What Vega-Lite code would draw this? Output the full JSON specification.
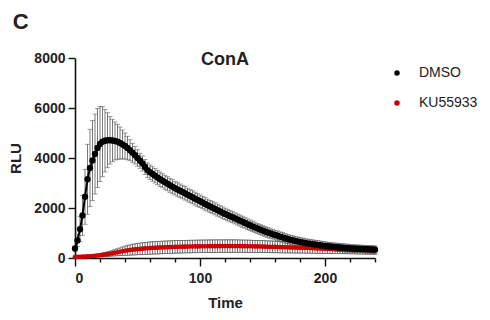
{
"$schema": "https://vega.github.io/schema/vega-lite/v6.json",
"background": "white",
"padding": {"left": 8, "top": 11, "right": 5, "bottom": 5},
"title": {"text": "C", "anchor": "start", "frame": "bounds", "fontSize": 22, "font": "Liberation Sans", "fontWeight": "bold", "color": "#222", "offset": 17, "dx": 4},
"datasets": {
"dmso": [
{"t":0,"v":380,"e":100},{"t":2,"v":700,"e":250},{"t":4,"v":1150,"e":500},{"t":6,"v":1700,"e":800},{"t":8,"v":2450,"e":1100},{"t":10,"v":3150,"e":1400},{"t":12,"v":3600,"e":1550},{"t":14,"v":3900,"e":1600},{"t":16,"v":4160,"e":1600},{"t":18,"v":4400,"e":1580},{"t":20,"v":4560,"e":1500},{"t":22,"v":4650,"e":1400},{"t":24,"v":4690,"e":1250},{"t":26,"v":4710,"e":1100},{"t":28,"v":4710,"e":950},{"t":30,"v":4700,"e":850},{"t":32,"v":4680,"e":760},{"t":34,"v":4650,"e":700},{"t":36,"v":4600,"e":640},{"t":38,"v":4540,"e":580},{"t":40,"v":4480,"e":520},{"t":42,"v":4400,"e":470},{"t":44,"v":4310,"e":420},{"t":46,"v":4210,"e":380},{"t":48,"v":4110,"e":350},{"t":50,"v":4000,"e":330},{"t":52,"v":3890,"e":300},{"t":54,"v":3780,"e":300},{"t":56,"v":3640,"e":300},{"t":58,"v":3510,"e":290},{"t":60,"v":3430,"e":290},{"t":62,"v":3360,"e":290},{"t":64,"v":3290,"e":290},{"t":66,"v":3220,"e":290},{"t":68,"v":3150,"e":290},{"t":70,"v":3090,"e":280},{"t":72,"v":3030,"e":280},{"t":74,"v":2970,"e":280},{"t":76,"v":2910,"e":280},{"t":78,"v":2850,"e":280},{"t":80,"v":2790,"e":270},{"t":82,"v":2740,"e":270},{"t":84,"v":2690,"e":270},{"t":86,"v":2640,"e":270},{"t":88,"v":2590,"e":270},{"t":90,"v":2535,"e":260},{"t":92,"v":2480,"e":260},{"t":94,"v":2430,"e":260},{"t":96,"v":2375,"e":260},{"t":98,"v":2325,"e":260},{"t":100,"v":2270,"e":250},{"t":102,"v":2220,"e":250},{"t":104,"v":2165,"e":250},{"t":106,"v":2115,"e":240},{"t":108,"v":2065,"e":240},{"t":110,"v":2015,"e":240},{"t":112,"v":1965,"e":240},{"t":114,"v":1915,"e":240},{"t":116,"v":1865,"e":230},{"t":118,"v":1815,"e":230},{"t":120,"v":1765,"e":230},{"t":122,"v":1720,"e":230},{"t":124,"v":1675,"e":230},{"t":126,"v":1630,"e":220},{"t":128,"v":1585,"e":220},{"t":130,"v":1540,"e":220},{"t":132,"v":1495,"e":220},{"t":134,"v":1450,"e":220},{"t":136,"v":1405,"e":210},{"t":138,"v":1350,"e":210},{"t":140,"v":1310,"e":210},{"t":142,"v":1265,"e":210},{"t":144,"v":1225,"e":210},{"t":146,"v":1180,"e":200},{"t":148,"v":1140,"e":200},{"t":150,"v":1100,"e":200},{"t":152,"v":1060,"e":200},{"t":154,"v":1025,"e":200},{"t":156,"v":990,"e":200},{"t":158,"v":955,"e":190},{"t":160,"v":920,"e":190},{"t":162,"v":890,"e":190},{"t":164,"v":855,"e":190},{"t":166,"v":825,"e":190},{"t":168,"v":790,"e":190},{"t":170,"v":760,"e":180},{"t":172,"v":735,"e":180},{"t":174,"v":710,"e":180},{"t":176,"v":685,"e":180},{"t":178,"v":660,"e":180},{"t":180,"v":640,"e":180},{"t":182,"v":620,"e":180},{"t":184,"v":600,"e":170},{"t":186,"v":585,"e":170},{"t":188,"v":570,"e":170},{"t":190,"v":555,"e":170},{"t":192,"v":540,"e":170},{"t":194,"v":525,"e":170},{"t":196,"v":510,"e":170},{"t":198,"v":495,"e":170},{"t":200,"v":480,"e":170},{"t":202,"v":470,"e":160},{"t":204,"v":460,"e":160},{"t":206,"v":450,"e":160},{"t":208,"v":440,"e":160},{"t":210,"v":430,"e":160},{"t":212,"v":420,"e":160},{"t":214,"v":410,"e":160},{"t":216,"v":400,"e":160},{"t":218,"v":395,"e":160},{"t":220,"v":385,"e":150},{"t":222,"v":380,"e":150},{"t":224,"v":375,"e":150},{"t":226,"v":370,"e":150},{"t":228,"v":365,"e":150},{"t":230,"v":360,"e":150},{"t":232,"v":355,"e":150},{"t":234,"v":350,"e":150},{"t":236,"v":345,"e":150},{"t":238,"v":340,"e":150},{"t":240,"v":335,"e":150}
],
"ku": [
{"t":0,"v":40,"e":30},{"t":2,"v":45,"e":30},{"t":4,"v":50,"e":30},{"t":6,"v":55,"e":35},{"t":8,"v":60,"e":35},{"t":10,"v":65,"e":40},{"t":12,"v":70,"e":40},{"t":14,"v":80,"e":45},{"t":16,"v":90,"e":50},{"t":18,"v":100,"e":55},{"t":20,"v":110,"e":60},{"t":22,"v":125,"e":70},{"t":24,"v":140,"e":80},{"t":26,"v":155,"e":90},{"t":28,"v":170,"e":100},{"t":30,"v":190,"e":110},{"t":32,"v":210,"e":125},{"t":34,"v":230,"e":140},{"t":36,"v":250,"e":155},{"t":38,"v":270,"e":170},{"t":40,"v":290,"e":185},{"t":42,"v":305,"e":195},{"t":44,"v":320,"e":205},{"t":46,"v":335,"e":215},{"t":48,"v":345,"e":220},{"t":50,"v":355,"e":225},{"t":52,"v":365,"e":230},{"t":54,"v":375,"e":235},{"t":56,"v":383,"e":240},{"t":58,"v":390,"e":240},{"t":60,"v":397,"e":245},{"t":62,"v":403,"e":245},{"t":64,"v":409,"e":250},{"t":66,"v":414,"e":250},{"t":68,"v":419,"e":250},{"t":70,"v":424,"e":250},{"t":72,"v":428,"e":250},{"t":74,"v":432,"e":250},{"t":76,"v":436,"e":250},{"t":78,"v":440,"e":250},{"t":80,"v":443,"e":250},{"t":82,"v":446,"e":250},{"t":84,"v":449,"e":250},{"t":86,"v":452,"e":250},{"t":88,"v":455,"e":250},{"t":90,"v":457,"e":250},{"t":92,"v":459,"e":250},{"t":94,"v":461,"e":250},{"t":96,"v":463,"e":250},{"t":98,"v":465,"e":250},{"t":100,"v":467,"e":250},{"t":102,"v":469,"e":250},{"t":104,"v":470,"e":250},{"t":106,"v":471,"e":250},{"t":108,"v":472,"e":250},{"t":110,"v":473,"e":250},{"t":112,"v":474,"e":250},{"t":114,"v":475,"e":250},{"t":116,"v":476,"e":250},{"t":118,"v":476,"e":250},{"t":120,"v":477,"e":250},{"t":122,"v":477,"e":250},{"t":124,"v":477,"e":250},{"t":126,"v":477,"e":250},{"t":128,"v":476,"e":250},{"t":130,"v":476,"e":250},{"t":132,"v":475,"e":245},{"t":134,"v":474,"e":245},{"t":136,"v":473,"e":245},{"t":138,"v":471,"e":245},{"t":140,"v":469,"e":245},{"t":142,"v":467,"e":240},{"t":144,"v":465,"e":240},{"t":146,"v":463,"e":240},{"t":148,"v":460,"e":240},{"t":150,"v":457,"e":240},{"t":152,"v":454,"e":235},{"t":154,"v":451,"e":235},{"t":156,"v":448,"e":235},{"t":158,"v":445,"e":235},{"t":160,"v":442,"e":230},{"t":162,"v":439,"e":230},{"t":164,"v":436,"e":230},{"t":166,"v":433,"e":225},{"t":168,"v":430,"e":225},{"t":170,"v":427,"e":225},{"t":172,"v":424,"e":220},{"t":174,"v":421,"e":220},{"t":176,"v":418,"e":220},{"t":178,"v":415,"e":215},{"t":180,"v":412,"e":215},{"t":182,"v":408,"e":210},{"t":184,"v":404,"e":210},{"t":186,"v":400,"e":205},{"t":188,"v":396,"e":205},{"t":190,"v":392,"e":200},{"t":192,"v":388,"e":200},{"t":194,"v":384,"e":195},{"t":196,"v":380,"e":195},{"t":198,"v":376,"e":190},{"t":200,"v":372,"e":190},{"t":202,"v":368,"e":185},{"t":204,"v":364,"e":185},{"t":206,"v":360,"e":180},{"t":208,"v":356,"e":180},{"t":210,"v":352,"e":175},{"t":212,"v":348,"e":175},{"t":214,"v":344,"e":170},{"t":216,"v":340,"e":170},{"t":218,"v":336,"e":165},{"t":220,"v":332,"e":165},{"t":222,"v":328,"e":160},{"t":224,"v":324,"e":160},{"t":226,"v":320,"e":160},{"t":228,"v":316,"e":155},{"t":230,"v":312,"e":155},{"t":232,"v":308,"e":155},{"t":234,"v":305,"e":150},{"t":236,"v":302,"e":150},{"t":238,"v":299,"e":150},{"t":240,"v":296,"e":150}
]
},
"vconcat": [
{
"width": 300,
"height": 200,
"title": {"text": "ConA", "fontSize": 18, "font": "Liberation Sans", "fontWeight": "bold", "color": "#222", "anchor": "middle", "offset": -18},
"layer": [
{
"data": {"name": "dmso"},
"mark": {"type": "errorbar", "color": "#555555", "thickness": 0.8, "ticks": {"size": 5, "color": "#555555", "thickness": 0.8}},
"encoding": {
"x": {"field": "t", "type": "quantitative", "title": "Time", "scale": {"domain": [0, 240], "nice": false}},
"y": {"field": "v", "type": "quantitative", "title": "RLU", "scale": {"domain": [0, 8000], "nice": false}},
"yError": {"field": "e"}
}
},
{
"data": {"name": "ku"},
"mark": {"type": "errorbar", "color": "#555555", "thickness": 0.8, "ticks": {"size": 5, "color": "#555555", "thickness": 0.8}},
"encoding": {
"x": {"field": "t", "type": "quantitative", "title": "Time"},
"y": {"field": "v", "type": "quantitative", "title": "RLU"},
"yError": {"field": "e"}
}
},
{
"data": {"name": "ku"},
"mark": {"type": "line", "color": "#b00000", "strokeWidth": 2},
"encoding": {
"x": {"field": "t", "type": "quantitative", "title": "Time"},
"y": {"field": "v", "type": "quantitative", "title": "RLU", "axis": {"values": [0, 2000, 4000, 6000, 8000], "format": "d", "tickSize": 7, "labelPadding": 3, "titlePadding": 10}}
}
},
{
"data": {"name": "ku"},
"mark": {"type": "point", "filled": true, "opacity": 1, "size": 22, "shape": "circle"},
"encoding": {
"x": {"field": "t", "type": "quantitative", "title": "Time"},
"y": {"field": "v", "type": "quantitative", "title": "RLU"},
"color": {"datum": "KU55933", "type": "nominal", "scale": {"domain": ["DMSO", "KU55933"], "range": ["#000000", "#cc0000"]}, "title": null}
}
},
{
"data": {"name": "dmso"},
"mark": {"type": "line", "color": "#000000", "strokeWidth": 2},
"encoding": {
"x": {"field": "t", "type": "quantitative", "title": "Time"},
"y": {"field": "v", "type": "quantitative", "title": "RLU"}
}
},
{
"data": {"name": "dmso"},
"mark": {"type": "point", "filled": true, "opacity": 1, "size": 40, "shape": "circle"},
"encoding": {
"x": {"field": "t", "type": "quantitative", "title": "Time"},
"y": {"field": "v", "type": "quantitative", "title": "RLU"},
"color": {"datum": "DMSO", "type": "nominal", "scale": {"domain": ["DMSO", "KU55933"], "range": ["#000000", "#cc0000"]}, "title": null}
}
}
]
}
],
"config": {
"view": {"stroke": null},
"axis": {"grid": false, "domainColor": "#111", "domainWidth": 1.6, "tickColor": "#111", "tickWidth": 1.4, "labelFont": "Liberation Sans", "labelFontSize": 14, "labelFontWeight": "bold", "labelColor": "#222", "titleFont": "Liberation Sans", "titleFontSize": 15, "titleFontWeight": "bold", "titleColor": "#222"},
"axisX": {"values": [0, 10, 20, 30, 40, 50, 60, 70, 80, 90, 100, 110, 120, 130, 140, 150, 160, 170, 180, 190, 200, 210, 220, 230, 240], "labelExpr": "datum.value == 0 || datum.value == 100 || datum.value == 200 ? datum.label : ''", "labelOverlap": false, "labelSeparation": 0, "tickSize": {"condition": {"test": "datum.value == 0 || datum.value == 100 || datum.value == 200", "value": 8}, "value": 4}, "labelPadding": 5, "titlePadding": 10},
"legend": {"orient": "right", "offset": 3, "padding": 8, "labelFont": "Liberation Sans", "labelFontSize": 14, "labelColor": "#222", "symbolSize": 30, "symbolType": "circle", "rowPadding": 16, "labelOffset": 15}
}
}
